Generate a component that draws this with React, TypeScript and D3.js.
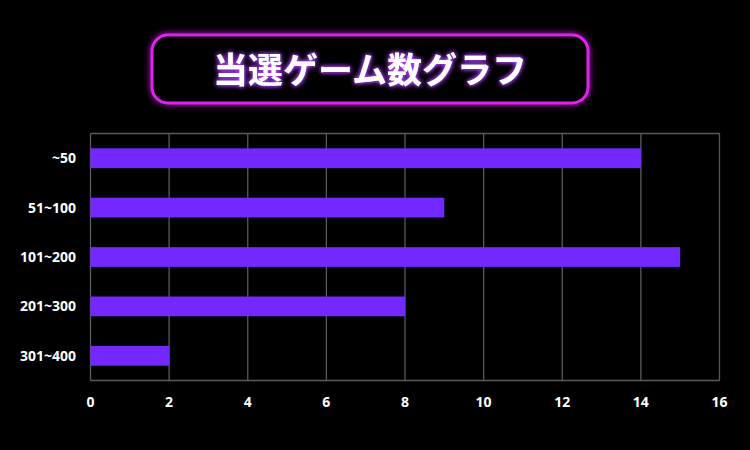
import React from "react";
import * as d3 from "d3";

const categories = ["~50", "51~100", "101~200", "201~300", "301~400"];
const values = [14, 9, 15, 8, 2];
const xTicks = [0, 2, 4, 6, 8, 10, 12, 14, 16];
const title = "当選ゲーム数グラフ";

export default function App() {
  const W = 750, H = 450;
  const left = 90.5, right = 719.5, top = 133.5, bottom = 380.5;
  const x = d3.scaleLinear().domain([0, 16]).range([left, right]);
  const y = d3.scaleBand().domain(categories).range([top, bottom]).paddingInner(0.6).paddingOuter(0.3);
  return (
    <svg width={W} height={H} style={{ position: "absolute", left: 0, top: 0, background: "#000" }}
      fontFamily="'Noto Sans', sans-serif">
      <defs>
        <filter id="glow" x="-20%" y="-40%" width="140%" height="180%">
          <feGaussianBlur stdDeviation="3" result="b" />
          <feMerge>
            <feMergeNode in="b" />
            <feMergeNode in="SourceGraphic" />
          </feMerge>
        </filter>
        <filter id="tglow" x="-10%" y="-40%" width="120%" height="180%">
          <feGaussianBlur in="SourceAlpha" stdDeviation="2.5" result="b" />
          <feFlood floodColor="#b040ff" result="c" />
          <feComposite in="c" in2="b" operator="in" result="g" />
          <feMerge>
            <feMergeNode in="g" />
            <feMergeNode in="g" />
            <feMergeNode in="SourceGraphic" />
          </feMerge>
        </filter>
      </defs>
      <rect x={0} y={0} width={W} height={H} fill="#000" />
      <rect x={152} y={35} width={436} height={68} rx={16} fill="#000" stroke="#e020f0" strokeWidth={3} filter="url(#glow)" />
      <text x={370} y={83} textAnchor="middle" fill="#fff" fontSize={35} fontWeight="bold"
        fontFamily="'Noto Sans CJK JP', sans-serif" filter="url(#tglow)">{title}</text>
      {xTicks.map(t => (
        <line key={t} x1={x(t)} x2={x(t)} y1={top} y2={bottom} stroke="#5a5a5a" strokeWidth={1.3} />
      ))}
      <line x1={left} x2={right} y1={top} y2={top} stroke="#5a5a5a" strokeWidth={1.3} />
      <line x1={left} x2={right} y1={bottom} y2={bottom} stroke="#5a5a5a" strokeWidth={1.3} />
      {categories.map((c, i) => (
        <rect key={c} x={x(0)} y={y(c)!} width={x(values[i]) - x(0)} height={y.bandwidth()} fill="#7328ff" />
      ))}
      {categories.map(c => (
        <text key={c} x={76} y={y(c)! + y.bandwidth() / 2} dy="0.35em" textAnchor="end" fill="#fff"
          fontSize={14} fontWeight="bold">{c}</text>
      ))}
      {xTicks.map(t => (
        <text key={t} x={x(t)} y={407} textAnchor="middle" fill="#fff" fontSize={14} fontWeight="bold">{t}</text>
      ))}
    </svg>
  );
}
